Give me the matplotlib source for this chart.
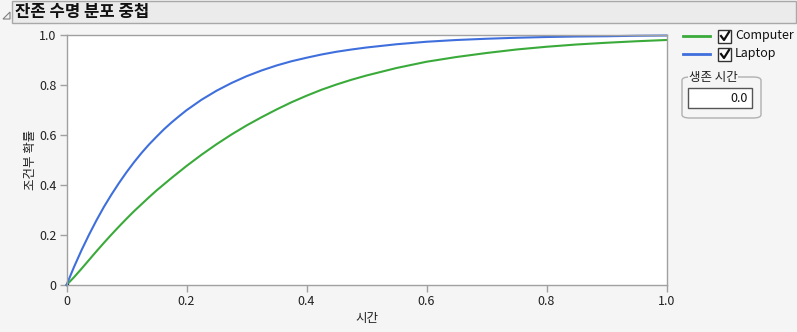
import matplotlib
matplotlib.use('Agg')
import matplotlib.pyplot as plt
from matplotlib.patches import Rectangle, FancyBboxPatch, Polygon
from matplotlib.lines import Line2D

plt.rcParams['font.family'] = ['Noto Sans CJK KR', 'DejaVu Sans']

# =============================================================================
# Data (conditional probability vs. time)
# =============================================================================
time = [0, 0.0125, 0.025, 0.0375, 0.05, 0.0625, 0.075, 0.0875, 0.1, 0.1125, 0.125,
        0.1375, 0.15, 0.1625, 0.175, 0.1875, 0.2, 0.225, 0.25, 0.275, 0.3, 0.325,
        0.35, 0.375, 0.4, 0.425, 0.45, 0.475, 0.5, 0.55, 0.6, 0.65, 0.7, 0.75,
        0.8, 0.85, 0.9, 0.95, 1.0]
computer = [0, 0.031, 0.065, 0.100, 0.135, 0.169, 0.202, 0.234, 0.265, 0.295, 0.323,
            0.351, 0.378, 0.403, 0.428, 0.452, 0.476, 0.521, 0.563, 0.602, 0.638, 0.671,
            0.702, 0.731, 0.757, 0.781, 0.802, 0.821, 0.838, 0.868, 0.893, 0.912, 0.928,
            0.942, 0.953, 0.962, 0.969, 0.975, 0.980]
laptop = [0, 0.072, 0.139, 0.201, 0.259, 0.313, 0.362, 0.408, 0.451, 0.491, 0.528,
          0.562, 0.593, 0.623, 0.650, 0.675, 0.699, 0.741, 0.777, 0.808, 0.835, 0.858,
          0.878, 0.895, 0.909, 0.922, 0.933, 0.942, 0.950, 0.963, 0.973, 0.980, 0.985,
          0.989, 0.992, 0.994, 0.995, 0.997, 0.998]

series = [('Computer', computer, '#3aaa3a'), ('Laptop', laptop, '#3f6fdc')]
ticks = [0, 0.2, 0.4, 0.6, 0.8, 1.0]
tick_labels = ['0', '0.2', '0.4', '0.6', '0.8', '1.0']

W, H = 797, 332
BG = '#f5f5f5'
AX = '#a0a0a0'


def fx(x):
    return x / W


def fy(y):
    return 1 - y / H


fig = plt.figure(figsize=(W / 100, H / 100), dpi=100, facecolor=BG)

# --- title bar ---
fig.patches.append(Rectangle((fx(12), fy(23)), fx(784), 22 / H, transform=fig.transFigure,
                             facecolor='#ebebeb', edgecolor='#a8a8a8', linewidth=1))
fig.patches.append(Polygon([(fx(3), fy(19)), (fx(10), fy(19)), (fx(10), fy(12))], closed=True,
                           transform=fig.transFigure, facecolor='none', edgecolor='#808080',
                           linewidth=0.8))
fig.text(fx(15), fy(12.5), '잔존 수명 분포 중첩', fontsize=12, fontweight='bold',
         va='center', ha='left', color='#111111')

# --- plot area ---
ax = fig.add_axes([fx(66.5), fy(285), 600 / W, 250 / H])
ax.set_facecolor('white')
for name, vals, col in series:
    ax.plot(time, vals, color=col, linewidth=1.5, solid_joinstyle='round', clip_on=False)
ax.plot(time[0], computer[0], 's', color='black', markersize=1.5)

ax.set_xlim(0, 1)
ax.set_ylim(0, 1)
ax.set_xticks(ticks)
ax.set_xticklabels(tick_labels)
ax.set_yticks(ticks)
ax.set_yticklabels(tick_labels)
for s in ax.spines.values():
    s.set_color(AX)
    s.set_linewidth(1)
ax.tick_params(direction='out', length=5, width=1, color=AX, labelsize=9,
               labelcolor='#222222', pad=2)
ax.set_xlabel('시간', fontsize=9, color='#222222', labelpad=3)
ax.set_ylabel('조건부 확률', fontsize=9, color='#222222', labelpad=2)

# --- legend with check boxes ---
for i, (name, vals, col) in enumerate(series):
    y = 36 + i * 18
    fig.lines.append(Line2D([fx(683), fx(710)], [fy(y), fy(y)], color=col, linewidth=2,
                            transform=fig.transFigure))
    fig.patches.append(Rectangle((fx(718), fy(y + 7)), 13 / W, 13 / H, transform=fig.transFigure,
                                 facecolor='white', edgecolor='#333333', linewidth=1))
    fig.lines.append(Line2D([fx(721), fx(724), fx(729)], [fy(y), fy(y + 4), fy(y - 4)],
                            color='#111111', linewidth=1.6, transform=fig.transFigure))
    fig.text(fx(735), fy(y), name, fontsize=9, va='center', ha='left', color='#111111')

# --- survival time box ---
fig.patches.append(FancyBboxPatch((fx(682), fy(118)), 79 / W, 41 / H,
                                  boxstyle='round,pad=0,rounding_size=0.01',
                                  transform=fig.transFigure, facecolor='none',
                                  edgecolor='#b0b0b0', linewidth=1))
fig.text(fx(713), fy(77), '생존 시간', fontsize=9, va='center', ha='center', color='#222222',
         bbox=dict(facecolor=BG, edgecolor='none', pad=0.5))
fig.patches.append(Rectangle((fx(688), fy(108)), 64 / W, 20 / H, transform=fig.transFigure,
                             facecolor='white', edgecolor='#555555', linewidth=1))
fig.text(fx(748), fy(98), '0.0', fontsize=9, va='center', ha='right', color='#111111')

fig.savefig('out.png', dpi=100, facecolor=BG)
